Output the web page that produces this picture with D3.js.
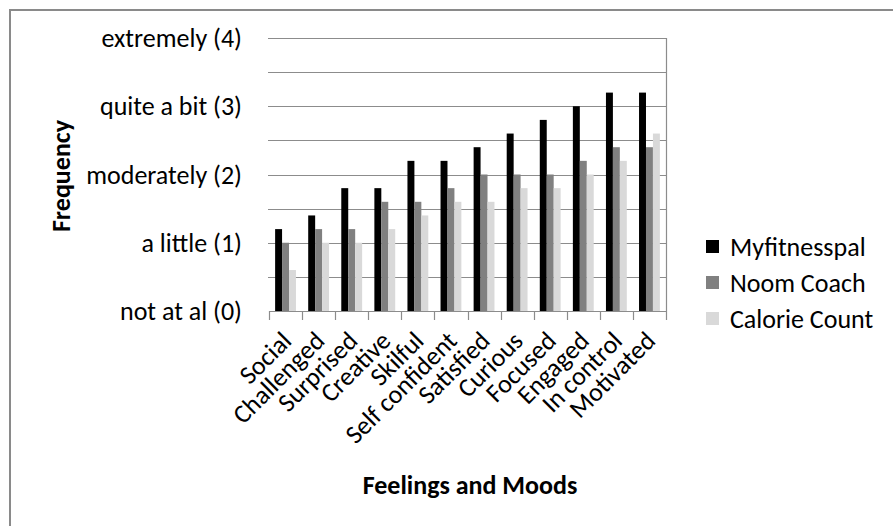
<!DOCTYPE html>
<html>
<head>
<meta charset="utf-8">
<script src="https://cdn.jsdelivr.net/npm/d3@7"></script>
<style>
  body { margin: 0; background: #fff; }
  svg text { font-family: Carlito, Lato, "Open Sans", sans-serif; fill: #000; }
</style>
</head>
<body>
<svg id="drawing_region"></svg>
<script>
// chart data
const moods = ['Social', 'Challenged', 'Surprised', 'Creative', 'Skilful', 'Self confident',
    'Satisfied', 'Curious', 'Focused', 'Engaged', 'In control', 'Motivated'];
const seriesNames = ['Myfitnesspal', 'Noom Coach', 'Calorie Count'];
const myfitnesspal = [1.2, 1.4, 1.8, 1.8, 2.2, 2.2, 2.4, 2.6, 2.8, 3.0, 3.2, 3.2];
const noomCoach = [1.0, 1.2, 1.2, 1.6, 1.6, 1.8, 2.0, 2.0, 2.0, 2.2, 2.4, 2.4];
const calorieCount = [0.6, 1.0, 1.0, 1.2, 1.4, 1.6, 1.6, 1.8, 1.8, 2.0, 2.2, 2.6];
const yTickValues = [0, 1, 2, 3, 4];
const yTickLabels = ['not at al (0)', 'a little (1)', 'moderately (2)', 'quite a bit (3)', 'extremely (4)'];
const colors = ['#000000', '#808080', '#d9d9d9'];

const config = {
    width: 893,
    height: 526,
    margin: { top: 38, right: 227, bottom: 215, left: 269 }
};

const svg = d3.select('#drawing_region')
    .attr('width', config.width)
    .attr('height', config.height);

// outer frame
svg.append('rect')
    .attr('x', 10).attr('y', 10)
    .attr('width', config.width + 20).attr('height', config.height + 20)
    .attr('fill', 'none')
    .attr('stroke', '#8a8a8a')
    .attr('stroke-width', 2);

const inner_width = config.width - config.margin.left - config.margin.right;
const inner_height = config.height - config.margin.top - config.margin.bottom;

const chart = svg.append('g')
    .attr('transform', `translate(${config.margin.left}, ${config.margin.top})`);

const xscale = d3.scaleBand()
    .domain(moods)
    .range([0, inner_width])
    .padding(0);

const x1 = d3.scaleBand()
    .domain(seriesNames)
    .range([xscale.bandwidth() * 0.185, xscale.bandwidth() * 0.815]);

const yscale = d3.scaleLinear()
    .domain([0, 4])
    .range([inner_height, 0]);

// gridlines every half step
const gridValues = d3.range(0.5, 4.01, 0.5);
chart.append('g')
    .selectAll('line')
    .data(gridValues)
    .join('line')
    .attr('x1', -1).attr('x2', inner_width)
    .attr('y1', d => Math.round(yscale(d)) + 0.5)
    .attr('y2', d => Math.round(yscale(d)) + 0.5)
    .attr('stroke', '#8c8c8c')
    .attr('stroke-width', 1.2);

// right edge line
chart.append('line')
    .attr('x1', inner_width + 0.5).attr('x2', inner_width + 0.5)
    .attr('y1', 0).attr('y2', inner_height + 9)
    .attr('stroke', '#8c8c8c')
    .attr('stroke-width', 1.2);

// bars
const table = moods.map((m, i) => ({
    mood: m,
    values: [myfitnesspal[i], noomCoach[i], calorieCount[i]]
}));

chart.append('g')
    .selectAll('g')
    .data(table)
    .join('g')
    .attr('transform', d => `translate(${xscale(d.mood)}, 0)`)
    .selectAll('rect')
    .data(d => d.values.map((v, j) => ({ name: seriesNames[j], value: v, color: colors[j] })))
    .join('rect')
    .attr('x', d => x1(d.name))
    .attr('y', d => yscale(d.value))
    .attr('width', x1.bandwidth())
    .attr('height', d => inner_height - yscale(d.value))
    .attr('fill', d => d.color);

// x axis line and ticks on category borders
const xaxis_group = chart.append('g')
    .attr('transform', `translate(0, ${inner_height})`);

xaxis_group.append('line')
    .attr('x1', 0).attr('x2', inner_width)
    .attr('y1', 0.5).attr('y2', 0.5)
    .attr('stroke', '#8c8c8c')
    .attr('stroke-width', 1.2);

xaxis_group.selectAll('line.tick')
    .data(moods)
    .join('line')
    .attr('class', 'tick')
    .attr('x1', d => Math.round(xscale(d)) + 0.5)
    .attr('x2', d => Math.round(xscale(d)) + 0.5)
    .attr('y1', 0).attr('y2', 9)
    .attr('stroke', '#8c8c8c')
    .attr('stroke-width', 1.2);

// rotated category labels
xaxis_group.selectAll('text')
    .data(moods)
    .join('text')
    .attr('transform', d => `translate(${xscale(d) + xscale.bandwidth() / 2 + 1}, 25) rotate(-45)`)
    .attr('text-anchor', 'end')
    .attr('dy', '0.35em')
    .style('font-size', '26px')
    .text(d => d);

// y tick labels
chart.append('g')
    .selectAll('text')
    .data(yTickValues)
    .join('text')
    .attr('x', -27)
    .attr('y', d => yscale(d))
    .attr('dy', '0.35em')
    .attr('text-anchor', 'end')
    .style('font-size', '26px')
    .text((d, i) => yTickLabels[i]);

// axis titles
svg.append('text')
    .attr('transform', `translate(70, 176) rotate(-90)`)
    .attr('text-anchor', 'middle')
    .style('font-size', '26px')
    .style('font-weight', 'bold')
    .text('Frequency');

svg.append('text')
    .attr('x', 470)
    .attr('y', 494)
    .attr('text-anchor', 'middle')
    .style('font-size', '26px')
    .style('font-weight', 'bold')
    .text('Feelings and Moods');

// legend
const legend = svg.append('g')
    .attr('transform', 'translate(706, 247)');

const legendItems = legend.selectAll('g')
    .data(seriesNames)
    .join('g')
    .attr('transform', (d, i) => `translate(0, ${i * 36})`);

legendItems.append('rect')
    .attr('x', 0).attr('y', -7)
    .attr('width', 13).attr('height', 13)
    .attr('fill', (d, i) => colors[i]);

legendItems.append('text')
    .attr('x', 24)
    .attr('dy', '0.35em')
    .style('font-size', '26px')
    .text(d => d);
</script>
</body>
</html>
